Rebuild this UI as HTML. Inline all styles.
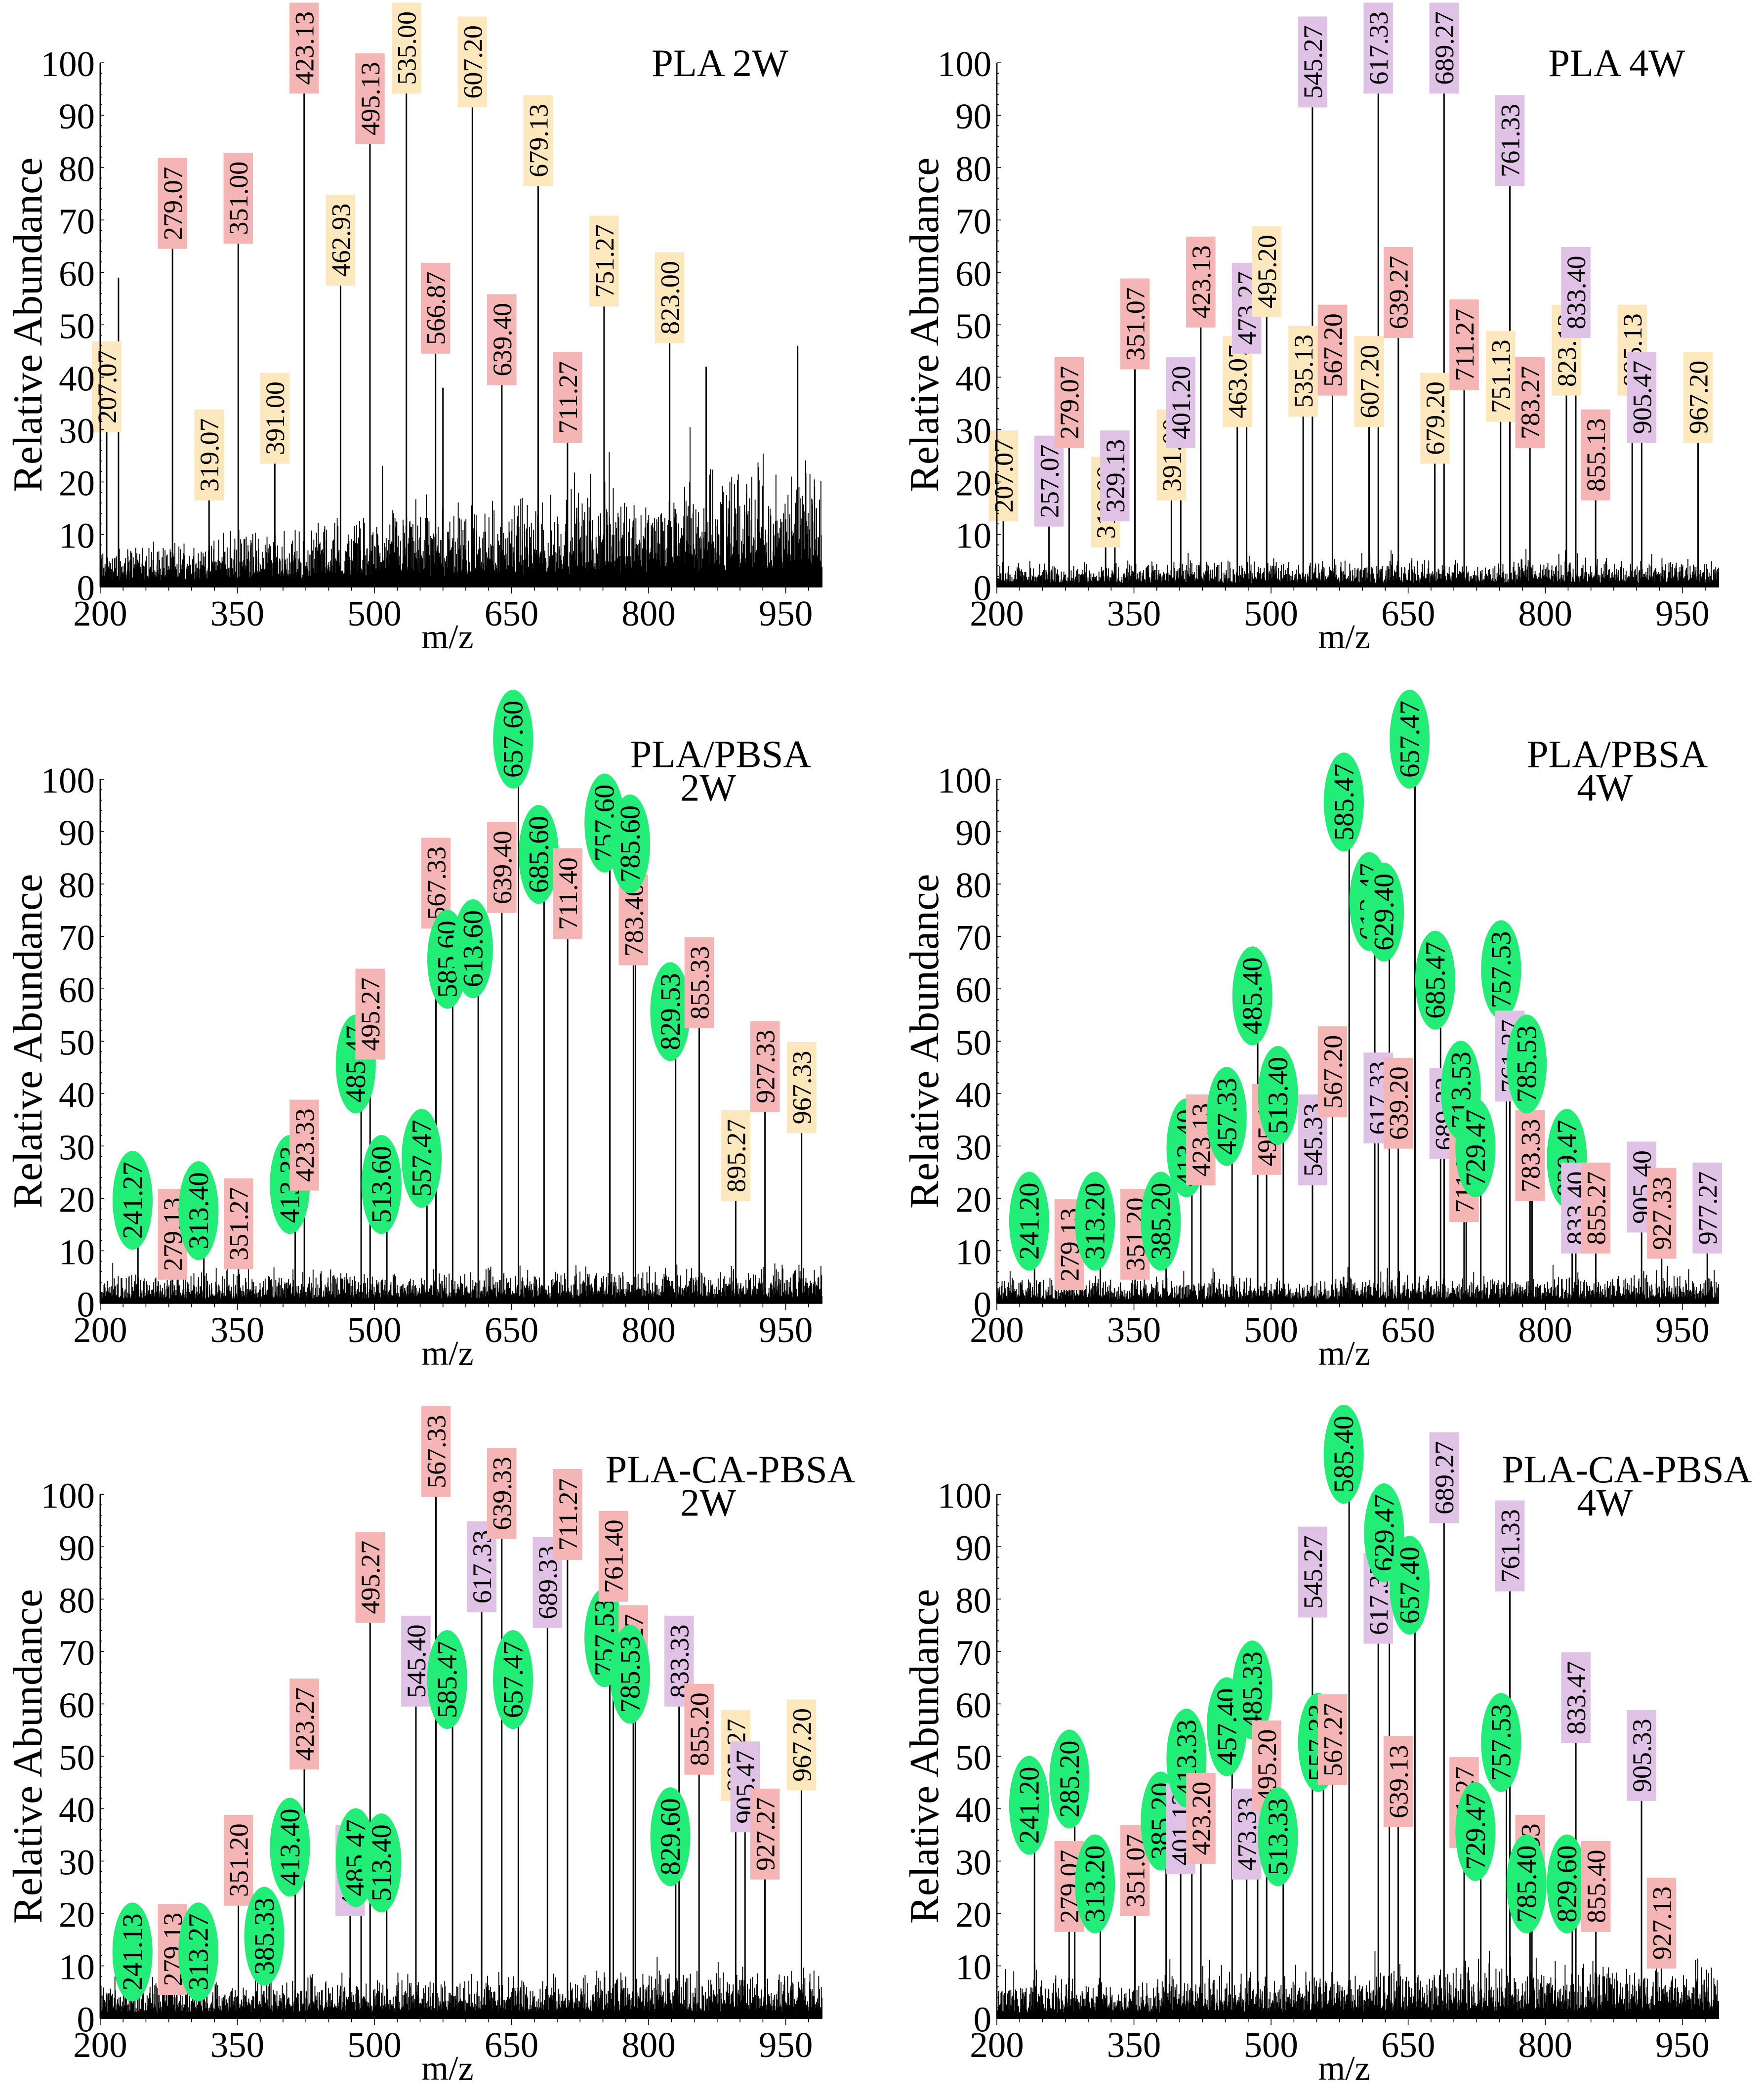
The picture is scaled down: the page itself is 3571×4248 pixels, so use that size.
<!DOCTYPE html>
<html><head><meta charset="utf-8">
<style>
html,body{margin:0;padding:0;background:#fff;}
svg{display:block;}
text{font-family:"Liberation Serif",serif;}
</style></head>
<body>
<svg id="fig" width="3571" height="4248" viewBox="0 0 1320.1 1570.4" preserveAspectRatio="none" xmlns="http://www.w3.org/2000/svg"></svg>
<script>
// ---- data per panel: m/z, relative abundance, label colour class ----
const p1Mz  = [207.07,220,279.07,319.07,351.00,391.00,423.13,462.93,495.13,535.00,566.87,575,607.20,639.40,679.13,711.27,751.27,823.00,863,963];
const p1Ht  = [30,59,65,17,66,24,100,58,85,96,45,38,92,39,77,28,54,47,42,46];
const p1Col = ['y','','p','y','p','y','p','y','p','y','p','','y','p','y','p','y','y','',''];

const p2Mz  = [207.07,257.07,279.07,319.00,329.13,351.07,391.00,401.20,423.13,463.07,473.27,495.20,535.13,545.27,567.20,607.20,617.33,639.27,679.20,689.27,711.27,751.13,761.33,783.27,823.13,833.40,855.13,895.13,905.47,967.20];
const p2Ht  = [13,12,27,8,13,42,17,27,50,31,45,52,33,92,37,31,100,48,24,96,38,32,77,27,37,48,17,37,28,28];
const p2Col = ['y','u','p','y','u','p','y','u','p','y','u','y','y','u','p','y','u','p','y','u','p','y','u','p','y','u','p','y','u','y'];

const p3Mz  = [241.27,279.13,313.40,351.27,413.33,423.33,485.47,495.27,513.60,557.47,567.33,585.60,613.60,639.40,657.60,685.60,711.40,757.60,783.40,785.60,829.53,855.33,895.27,927.33,967.33];
const p3Ht  = [12,5,10,7,15,22,38,47,15,20,72,58,60,75,100,78,70,84,65,80,48,53,20,37,33];
const p3Col = ['g','p','g','p','g','p','g','p','g','g','p','g','g','p','g','g','p','g','p','g','g','p','y','p','y'];

const p4Mz  = [241.20,279.13,313.20,351.20,385.20,413.40,423.13,457.33,485.40,495.13,513.40,545.33,567.20,585.47,613.47,617.33,629.40,639.20,657.47,685.47,689.33,711.20,713.53,729.47,757.53,761.27,783.33,785.53,829.47,833.40,855.27,905.40,927.33,977.27];
const p4Ht  = [8,3,8,5,8,22,23,28,51,25,32,23,36,88,69,31,67,30,100,54,28,16,33,22,56,39,20,38,20,10,10,14,9,10];
const p4Col = ['g','p','g','p','g','g','p','g','g','p','g','u','p','g','g','u','g','p','g','g','u','p','g','g','g','u','p','g','g','u','p','u','p','u'];

const p5Mz  = [241.13,279.13,313.27,351.20,385.33,413.40,423.27,473.47,485.47,495.27,513.40,545.40,567.33,585.47,617.33,639.33,657.47,689.33,711.27,757.53,761.40,783.27,785.53,829.60,833.33,855.20,895.27,905.47,927.27,967.20];
const p5Ht  = [5,5,5,22,8,25,48,20,23,76,22,60,100,57,78,92,57,75,88,65,80,62,58,27,60,47,42,36,27,44];
const p5Col = ['g','p','g','p','g','g','p','u','g','p','g','u','p','g','u','p','g','u','p','g','p','p','g','g','u','p','y','u','p','y'];

const p6Mz  = [241.20,279.07,285.20,313.20,351.07,385.20,401.13,413.33,423.20,457.40,473.33,485.33,495.20,513.33,545.27,557.33,567.27,585.40,617.33,629.47,639.13,657.40,689.27,711.27,729.47,757.53,761.33,783.33,785.40,829.60,833.47,855.40,905.33,927.13];
const p6Ht  = [33,17,38,18,20,30,28,42,30,48,27,55,40,27,77,45,45,100,72,85,37,75,95,33,28,45,82,22,18,18,53,17,42,10];
const p6Col = ['g','p','g','g','p','g','u','g','p','g','u','g','p','g','u','g','p','g','u','g','p','g','u','p','g','g','u','p','g','g','u','p','u','p'];

const xTicks = [200,350,500,650,800,950];
const yTicks = [0,10,20,30,40,50,60,70,80,90,100];
const noiseLevel = [ [4,13], [2.5,3], [3,4], [2.5,3], [4,5], [4,6] ];

const panels = [
  {mz:p1Mz,ht:p1Ht,col:p1Col,x0:75,y0:439,t1:'PLA 2W',t2:'',name:'pla-2w'},
  {mz:p2Mz,ht:p2Ht,col:p2Col,x0:746,y0:439,t1:'PLA 4W',t2:'',name:'pla-4w'},
  {mz:p3Mz,ht:p3Ht,col:p3Col,x0:75,y0:975,t1:'PLA/PBSA',t2:'2W',name:'pla-pbsa-2w'},
  {mz:p4Mz,ht:p4Ht,col:p4Col,x0:746,y0:975,t1:'PLA/PBSA',t2:'4W',name:'pla-pbsa-4w'},
  {mz:p5Mz,ht:p5Ht,col:p5Col,x0:75,y0:1510,t1:'PLA-CA-PBSA',t2:'2W',name:'pla-ca-pbsa-2w'},
  {mz:p6Mz,ht:p6Ht,col:p6Col,x0:746,y0:1510,t1:'PLA-CA-PBSA',t2:'4W',name:'pla-ca-pbsa-4w'}
];
const colors = {p:'#f5b5b5',y:'#fde7bd',u:'#dfc2e6',g:'#22ee77'};
const NS='http://www.w3.org/2000/svg';
const svg=document.getElementById('fig');
function mk(tag,attrs,parent){const e=document.createElementNS(NS,tag);for(const k in attrs)e.setAttribute(k,attrs[k]);(parent||svg).appendChild(e);return e;}
let seed=12345;
function rnd(){seed=(seed*1103515245+12345)%2147483648;return seed/2147483648;}

panels.forEach((P,pi)=>{
  const g=mk('g',{});
  
  
  const H=392, sx=0.684;
  const X=m=>P.x0+(m-200)*sx;
  const Y=v=>P.y0-v/100*H;
  const xEnd=X(990);
  // noise texture
  const nz=mk('g',{stroke:'#000','stroke-width':0.7},g);
  
  
  let d='';
  const nl=noiseLevel[pi];
  for(let m=200.5;m<990;m+=0.4){
    const lvl=nl[0]+(nl[1]-nl[0])*(m-200)/790;
    let h=lvl*(0.25+rnd()*rnd()*1.8);
    if(rnd()<0.025) h+=lvl*1.5*rnd();
    d+='M'+X(m).toFixed(2)+' '+P.y0+'V'+Y(h).toFixed(2);
  }
  mk('path',{d:d},nz);
  // peaks
  P.mz.forEach((m,i)=>{
    const ln=mk('line',{x1:X(m),x2:X(m),y1:P.y0,y2:Y(P.ht[i]),stroke:'#000','stroke-width':1.1},g);
    
    
  });
  // labels
  P.mz.forEach((m,i)=>{
    const c=P.col[i]; if(!c) return;
    const cx=X(m), top=Y(P.ht[i]);
    const lg=mk('g',{},g);
    
    
    let cy;
    if(c==='g'){
      cy=Math.max(top-30,40);
      mk('ellipse',{cx:cx-4,cy:cy,rx:15,ry:37,fill:colors.g},lg);
      const t=mk('text',{x:0,y:0,'font-size':21,'text-anchor':'middle',transform:`translate(${cx+3},${cy}) rotate(-90)`},lg);
      t.textContent=m.toFixed(2);
    } else {
      cy=Math.max(top-32,36);
      mk('rect',{x:cx-11,y:cy-34,width:22,height:68,fill:colors[c]},lg);
      const t=mk('text',{x:0,y:0,'font-size':20,'text-anchor':'middle',transform:`translate(${cx+7},${cy}) rotate(-90)`},lg);
      t.textContent=m.toFixed(2);
    }
  });
  // axes
  const ax=mk('g',{stroke:'#000','stroke-width':1,fill:'none'},g);
  
  
  mk('line',{x1:P.x0,y1:P.y0,x2:xEnd,y2:P.y0},ax);
  mk('line',{x1:P.x0,y1:P.y0,x2:P.x0,y2:Y(100)},ax);
  for(let v=0;v<=100;v+=2){mk('line',{x1:P.x0,x2:P.x0+(v%10?1.5:3),y1:Y(v),y2:Y(v),'stroke-width':0.6},ax);}
  for(let m=200;m<=990;m+=25){mk('line',{x1:X(m),x2:X(m),y1:P.y0,y2:P.y0+(m%150===50?5:3),'stroke-width':0.6},ax);}
  yTicks.forEach(v=>{
    const t=mk('text',{x:P.x0-4,y:Y(v)+10,'font-size':27,'text-anchor':'end'},g);
    t.textContent=v;
    
    
  });
  xTicks.forEach(v=>{
    const t=mk('text',{x:X(v),y:P.y0+29,'font-size':27,'text-anchor':'middle'},g);
    t.textContent=v;
    
    
  });
  const xt=mk('text',{x:X(580),y:P.y0+46,'font-size':26,'text-anchor':'middle'},g);
  xt.textContent='m/z';
  
  
  const yt=mk('text',{x:0,y:0,'font-size':31,'text-anchor':'middle',transform:`translate(${P.x0-44},${P.y0-H/2}) rotate(-90)`},g);
  yt.textContent='Relative Abundance';
  
  
  // title
  const right=P.x0+(P.t2? (P.t1.length>9?565:532):515);
  const tt=mk('text',{x:right,y:P.y0-H+(P.t2?-9:10),'font-size':29,'text-anchor':'end'},g);
  tt.textContent=P.t1;
  
  
  if(P.t2){
    const t2=mk('text',{x:P.x0+455,y:P.y0-H+16,'font-size':29,'text-anchor':'middle'},g);
    t2.textContent=P.t2;
    
    
  }
});
</script>
</body></html>
